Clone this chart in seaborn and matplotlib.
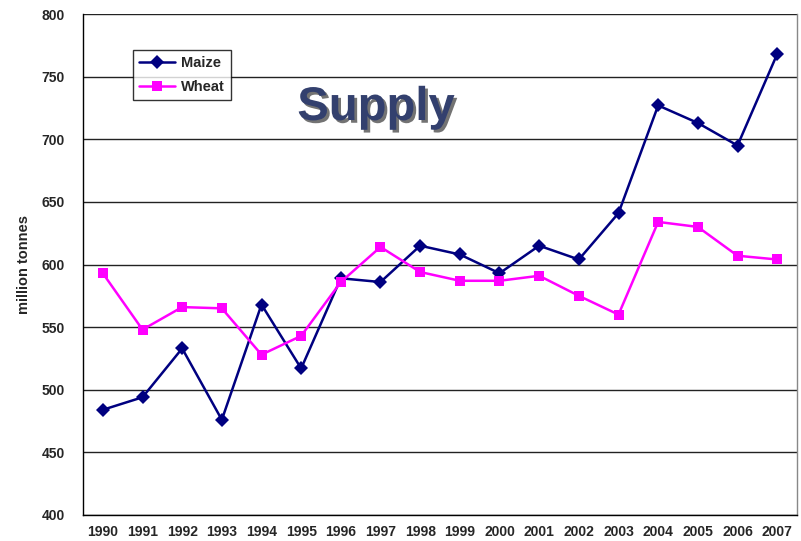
import numpy as np
import pandas as pd
import matplotlib
matplotlib.use("Agg")
import matplotlib.pyplot as plt
import matplotlib.patheffects as pe
import seaborn as sns

years = list(range(1990, 2008))
maize = [484, 494, 533, 476, 568, 517, 589, 586, 615, 608, 593, 615, 604, 641, 727, 713, 695, 768]
wheat = [593, 548, 566, 565, 528, 543, 586, 614, 594, 587, 587, 591, 575, 560, 634, 630, 607, 604]

sns.set_theme(style="white")
plt.rcParams['font.family'] = ['Liberation Sans', 'DejaVu Sans']

df = pd.DataFrame({
    "pos": list(range(len(years))) * 2,
    "value": maize + wheat,
    "crop": ["Maize"] * len(years) + ["Wheat"] * len(years),
})

fig = plt.figure(figsize=(8.01, 5.41), dpi=100)
ax = fig.add_axes([83/801, 26/541, (797-83)/801, (515-14)/541])

sns.lineplot(data=df, x="pos", y="value", hue="crop", style="crop",
             palette={"Maize": "#000080", "Wheat": "#FF00FF"},
             markers={"Maize": "D", "Wheat": "s"}, dashes=False,
             markersize=7, linewidth=1.8, markeredgewidth=0, ax=ax, legend=True)

ax.set_xlim(-0.5, len(years) - 0.5)
ax.set_ylim(400, 800)
ax.set_yticks(range(400, 801, 50))
ax.yaxis.grid(True, color="#222222", linewidth=1)
ax.xaxis.grid(False)
ax.set_axisbelow(True)

ax.set_xticks(range(len(years)))
ax.set_xticklabels([str(y) for y in years], fontweight="bold", fontsize=10)
ax.set_xticks(np.arange(-0.5, len(years), 1), minor=True)
ax.tick_params(axis="x", which="major", length=0, pad=7)
ax.tick_params(axis="x", which="minor", length=5, width=1, color="black", direction="out")
ax.tick_params(axis="y", which="major", length=5, width=1, color="black", direction="out", labelsize=10, pad=8)
for lab in ax.get_yticklabels():
    lab.set_fontweight("bold")

ax.set_xlabel("")
ax.set_ylabel("million tonnes", fontweight="bold", fontsize=10.5, labelpad=8)

for s in ["left", "bottom"]:
    ax.spines[s].set_color("black")
    ax.spines[s].set_linewidth(1)
ax.spines["top"].set_visible(False)
ax.spines["right"].set_color("#888888")
ax.spines["right"].set_linewidth(1)

leg = ax.legend(loc="upper left", bbox_to_anchor=(50/714, 1 - 36/501), frameon=True,
                fancybox=False, edgecolor="black", fontsize=10.5, handlelength=2.5,
                borderpad=0.4, labelspacing=0.7, handletextpad=0.4, borderaxespad=0)
leg.get_frame().set_linewidth(1)
for t in leg.get_texts():
    t.set_fontweight("bold")

ax.text(376/801, 1 - 108/541, "Supply", transform=fig.transFigure, ha="center", va="center",
        fontsize=34, fontweight="bold", color="#33406E",
        path_effects=[pe.withSimplePatchShadow(offset=(2, -2), shadow_rgbFace="black", alpha=0.55)])

fig.savefig("out.png", dpi=100)
